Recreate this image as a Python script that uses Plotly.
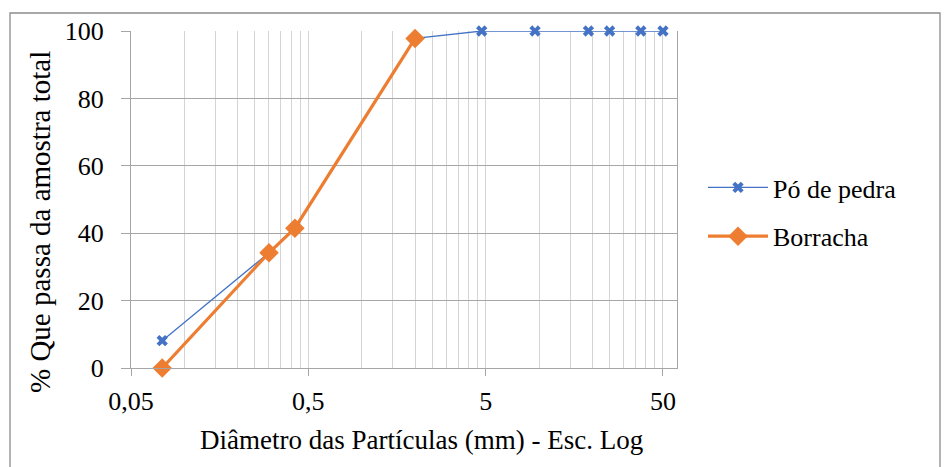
import plotly.graph_objects as go

# Particle-size distribution (sieve analysis), % passing vs diameter in mm
po_diam = [0.075, 0.3, 0.42, 2.0, 4.75, 9.5, 19, 25, 37.5, 50]
po_pass = [8.1, 34.2, 41.5, 97.8, 100, 100, 100, 100, 100, 100]

borr_diam = [0.075, 0.3, 0.42, 2.0]
borr_pass = [0, 34.2, 41.5, 97.8]

x_tickvals = [0.05, 0.5, 5, 50]
x_ticktext = ["0,05", "0,5", "5", "50"]
y_tickvals = [0, 20, 40, 60, 80, 100]

W, H = 947, 467
L, R, T, B = 131, 270, 31, 99
PW, PH = W - L - R, H - T - B

FONT = "Liberation Serif"
FS = 26
BLUE = "#4472C4"
ORANGE = "#ED7D31"

# minor grid at each multiple of the decade start (0.05, 0.1, ..., 0.5, 1, ...)
minor_vals = [m * k for m in (0.05, 0.5, 5) for k in range(1, 10)] + [50]

fig = go.Figure()
fig.add_trace(go.Scatter(
    x=po_diam, y=po_pass, name="Pó de pedra", mode="lines+markers",
    line=dict(color=BLUE, width=1.3),
    marker=dict(symbol="x", size=10, color=BLUE),
    legendgroup="a", cliponaxis=False,
))
fig.add_trace(go.Scatter(
    x=borr_diam, y=borr_pass, name="Borracha", mode="lines+markers",
    line=dict(color=ORANGE, width=3.2),
    marker=dict(symbol="diamond", size=15, color=ORANGE),
    legendgroup="b", cliponaxis=False,
))


def px_x(p):
    return (p - L) / PW


def px_y(p):
    return 1 - (p - T) / PH


fig.update_layout(
    width=W, height=H,
    margin=dict(l=L, r=R, t=T, b=B),
    paper_bgcolor="white", plot_bgcolor="white",
    font=dict(family=FONT, size=FS, color="black"),
    showlegend=True,
    legend=dict(
        x=px_x(703), y=px_y(164), xanchor="left", yanchor="top",
        font=dict(family=FONT, size=FS, color="black"),
        bgcolor="rgba(0,0,0,0)", itemwidth=60,
        traceorder="grouped", tracegroupgap=12,
    ),
    xaxis=dict(
        type="log",
        range=[-1.30103, 1.778151],
        tickmode="array", tickvals=x_tickvals, ticktext=x_ticktext,
        ticks="outside", ticklen=7, tickcolor="#a6a6a6", tickwidth=1,
        ticklabelstandoff=3,
        showgrid=True, gridcolor="#d4d4d4", gridwidth=1,
        minor=dict(tickmode="array", tickvals=minor_vals,
                   showgrid=True, gridcolor="#d4d4d4", gridwidth=1, ticks=""),
        showline=True, linecolor="#a6a6a6", linewidth=1.2,
        zeroline=False,
        tickfont=dict(family=FONT, size=FS, color="black"),
    ),
    yaxis=dict(
        range=[0, 100],
        tickmode="array", tickvals=y_tickvals,
        ticks="outside", ticklen=9, tickcolor="#a6a6a6", tickwidth=1.2,
        ticklabelstandoff=12,
        showgrid=True, gridcolor="#a6a6a6", gridwidth=1.3,
        showline=True, linecolor="#a6a6a6", linewidth=1.2, mirror=True,
        zeroline=False,
        tickfont=dict(family=FONT, size=FS, color="black"),
    ),
    annotations=[
        dict(text="Diâmetro das Partículas (mm) - Esc. Log",
             xref="paper", yref="paper", x=px_x(421), y=px_y(440),
             xanchor="center", yanchor="middle", showarrow=False,
             font=dict(family=FONT, size=27, color="black")),
        dict(text="% Que passa da amostra total",
             xref="paper", yref="paper", x=px_x(40), y=px_y(222),
             xanchor="center", yanchor="middle", showarrow=False,
             textangle=-90,
             font=dict(family=FONT, size=29, color="black")),
    ],
    shapes=[
        dict(type="rect", xref="paper", yref="paper",
             x0=px_x(10), x1=px_x(940), y0=px_y(480), y1=px_y(13),
             line=dict(color="#8c8c8c", width=1.3), fillcolor="rgba(0,0,0,0)",
             layer="below"),
    ],
)

fig.write_html("out.html")
